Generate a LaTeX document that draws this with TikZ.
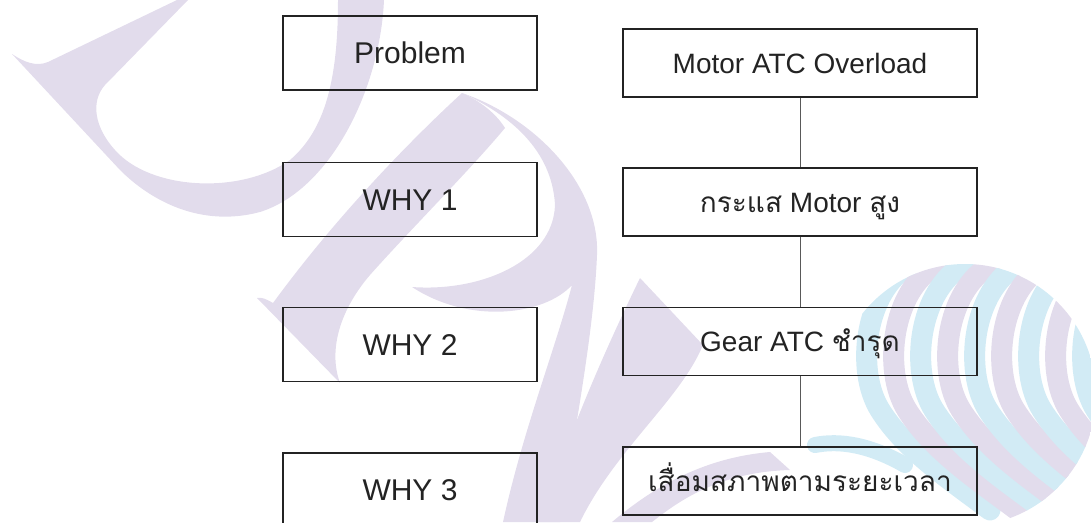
\documentclass[tikz,border=0pt]{standalone}
\usepackage{fontspec}
\setmainfont{Liberation Sans}
\newfontfamily\thaifont[Script=Thai]{Loma}
\definecolor{wmpurple}{RGB}{226,220,236}
\definecolor{wmblue}{RGB}{210,235,245}
\definecolor{boxline}{RGB}{35,35,35}

\begin{document}
\begin{tikzpicture}[x=1pt, y=-1pt,
  whybox/.style={draw=boxline, line width=1.4pt, fill=none, minimum width=254pt,
    minimum height=74pt, inner sep=0pt, text=boxline,
    font=\fontsize{30}{36}\selectfont, text height=21.5pt, text depth=0pt},
  causebox/.style={whybox, minimum width=354pt, minimum height=68pt,
    font=\fontsize{28}{34}\selectfont, text height=20pt},
  link/.style={draw=black!65, line width=0.8pt},
  stripe/.style={line width=21pt, line cap=round}]

\useasboundingbox (0,0) rectangle (1091,522);
\clip (0,0) rectangle (1091,522);

% Background logo marks
\fill[wmpurple] (12,54) .. controls (24,62) and (36,67) .. (48,62)
  -- (177,0) -- (188,0) -- (105,85)
  .. controls (90,102) and (95,128) .. (115,150)
  .. controls (150,190) and (240,195) .. (290,160)
  .. controls (325,130) and (338,80) .. (338,0)
  -- (384,0)
  .. controls (380,90) and (330,190) .. (260,212)
  .. controls (200,228) and (150,200) .. (120,170) -- cycle;

\fill[wmpurple] (462,93) .. controls (400,150) and (330,225) .. (273,303)
  .. controls (266,299) and (262,297) .. (257,298)
  -- (340,383) .. controls (328,350) and (340,310) .. (370,275)
  .. controls (410,230) and (470,170) .. (505,128)
  .. controls (495,112) and (478,100) .. (462,93) -- cycle;
\fill[wmpurple] (462,93) .. controls (535,118) and (600,185) .. (597,255)
  .. controls (594,330) and (575,430) .. (560,522)
  -- (503,522)
  .. controls (523,430) and (555,350) .. (572,285)
  .. controls (545,315) and (470,325) .. (412,287)
  .. controls (480,292) and (553,262) .. (555,205)
  .. controls (552,150) and (510,115) .. (462,93) -- cycle;

\fill[wmpurple] (640,278) -- (703,345)
  .. controls (680,400) and (615,450) .. (580,522) -- (540,522)
  .. controls (570,430) and (605,350) .. (640,278) -- cycle;
\fill[wmpurple] (612,522) .. controls (650,490) and (700,458) .. (770,452)
  -- (790,470) .. controls (720,472) and (680,500) .. (652,522) -- cycle;

\begin{scope}
  \clip (965,395) circle (131);
  \foreach \a/\col in {880/wmblue, 907/wmpurple, 934/wmblue, 961/wmpurple,
                       988/wmblue, 1015/wmpurple, 1042/wmblue, 1069/wmpurple,
                       1096/wmblue} {
    \draw[stripe, \col] (\a+30,265) .. controls (\a-15,290) and (\a-25,370) .. (\a,410)
      .. controls (\a+25,450) and (\a+70,480) .. (\a+110,510);
  }
\end{scope}
\draw[stripe, wmblue, line width=16pt] (905,465) .. controls (870,445) and (840,440) .. (815,445);

% Left column: questions
\node[whybox] (prob) at (410,53) {Problem};
\node[whybox] (why1) at (410,199.5) {WHY 1};
\node[whybox] (why2) at (410,344.5) {WHY 2};
\node[whybox] (why3) at (410,490) {WHY 3};

% Right column: answers
\node[causebox] (overload) at (800,63) {Motor ATC Overload};
\node[causebox] (current) at (800,202) {{\thaifont กระแส} Motor {\thaifont สูง}};
\node[causebox] (gear) at (800,341.5) {Gear ATC {\thaifont ชำรุด}};
\node[causebox] (ageing) at (800,481) {\thaifont เสื่อมสภาพตามระยะเวลา};

\draw[link] (overload) -- (current);
\draw[link] (current) -- (gear);
\draw[link] (gear) -- (ageing);

\end{tikzpicture}
\end{document}
